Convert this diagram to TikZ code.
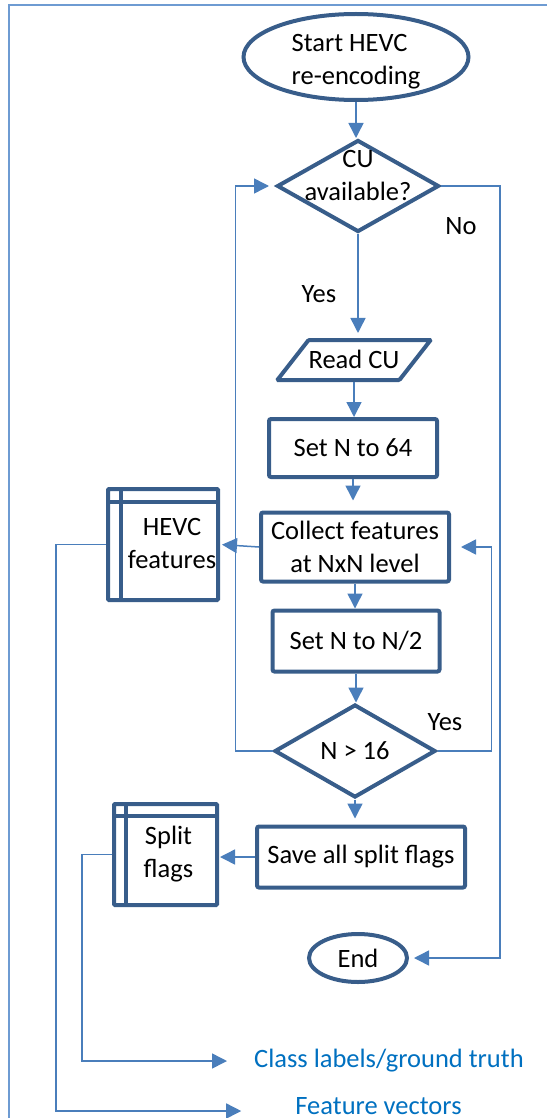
\documentclass[tikz,border=0pt]{standalone}
\usepackage{fontspec}
\setmainfont{Carlito}
\usetikzlibrary{shapes.geometric,arrows.meta}
\definecolor{boxblue}{RGB}{56,93,138}
\definecolor{lineblue}{RGB}{74,126,187}
\definecolor{frameblue}{RGB}{110,155,210}
\definecolor{textblue}{RGB}{0,112,192}
\begin{document}
\begin{tikzpicture}[x=1pt, y=-1pt, font=\fontsize{26.5}{33}\selectfont,
        box/.style={rectangle, rounded corners=2pt, draw=boxblue, line width=4pt, text centered, inner sep=0pt},
        term/.style={ellipse, draw=boxblue, line width=4pt, inner sep=0pt},
        decision/.style={diamond, draw=boxblue, line width=4pt, inner sep=0pt, align=center},
        inout/.style={trapezium, trapezium left angle=52, trapezium right angle=128, trapezium stretches=true, text height=28.5pt, text depth=11.5pt, rounded corners=1pt, draw=boxblue, line width=4pt, inner sep=0pt},
        store/.style={rectangle, rounded corners=1pt, draw=boxblue, line width=4pt, inner sep=0pt,
            path picture={\draw[boxblue, line width=4pt] ([yshift=-#1]path picture bounding box.north west) -- ([yshift=-#1]path picture bounding box.north east)
                ([xshift=#1]path picture bounding box.north west) -- ([xshift=#1]path picture bounding box.south west);}},
        outtext/.style={text=textblue, inner sep=0pt},
        flow/.style={draw=lineblue, line width=1.5pt, -{Triangle[length=15pt, width=15pt]}}]
        \useasboundingbox (0,0) rectangle (547,1118);
        \draw[frameblue, line width=1.5pt] (9,1118) -- (9,5) -- (547,5);
        \node[term, minimum width=225pt, minimum height=86pt, label={[yshift=-5pt, align=left]center:Start HEVC\\re-encoding}] at (356,57) (start) {};
        \node[decision, minimum width=162pt, minimum height=92pt, label={[yshift=11pt, align=center]center:CU\\available?}] at (358,186) (avail) {};
        \node[inout, minimum width=146pt] at (354,360) (read) {Read CU};
        \node[box, minimum width=168pt, minimum height=58pt] at (353,448) (setsf) {Set N to 64};
        \node[box, minimum width=188pt, minimum height=69pt, align=center] at (355,547) (collect) {Collect features\\at NxN level};
        \node[box, minimum width=167pt, minimum height=61pt] at (356,641) (halve) {Set N to N/2};
        \node[decision, minimum width=161pt, minimum height=93pt] at (355,751) (size) {N > 16};
        \node[box, minimum width=208pt, minimum height=61pt] at (361,857) (save) {Save all split flags};
        \node[term, minimum width=98pt, minimum height=48pt] at (358,958) (stop) {End};
        \node[store=13pt, minimum width=110pt, minimum height=111pt, label={[xshift=9pt, yshift=1.5pt, align=center]center:HEVC\\features}] at (163,544.5) (feat) {};
        \node[store=12pt, minimum width=103pt, minimum height=101pt, label={[xshift=3pt, align=center]center:Split\\flags}] at (165.5,854.5) (flags) {};
        \node[outtext] at (389,1061) (labels) {Class labels/ground truth};
        \node[outtext] at (378.5,1106) (vectors) {Feature vectors};
        \node at (461,226) (no) {No};
        \node at (319,294) (yesa) {Yes};
        \node at (445,722) (yesb) {Yes};
        \draw[flow] (start.south) -- (start.south |- avail.north);
        \draw[flow, shorten >=5pt] (avail.south) -- (avail.south |- read.north);
        \draw[flow] (read.south) -- (read.south |- setsf.north);
        \draw[flow, shorten >=10pt] (setsf.south) -- (setsf.south |- collect.north);
        \draw[flow] (collect.south) -- (collect.south |- halve.north);
        \draw[flow] (halve.south) -- (halve.south |- size.north);
        \draw[flow, shorten >=6pt] (size.south) -- (size.south |- save.north);
        \draw[flow, shorten >=2pt] (collect.west) -- (feat.east);
        \draw[flow, shorten >=1pt] (save.west) -- (save.west -| flags.east);
        \draw[flow, shorten >=6pt] (size.west) -- ++(-37,0) |- (avail.west);
        \draw[flow, shorten >=10pt] (size.east) -- ++(54,0) |- (collect.east);
        \draw[flow, shorten >=5pt] (avail.east) -- ++(59,0) |- (stop.east);
        \draw[flow, shorten >=54pt] (feat.west) -- ++(-50,0) |- ([yshift=-5pt]vectors.west);
        \draw[flow, shorten >=27pt] (flags.west) -- ++(-30,0) |- (labels.west);
\end{tikzpicture}
\end{document}
